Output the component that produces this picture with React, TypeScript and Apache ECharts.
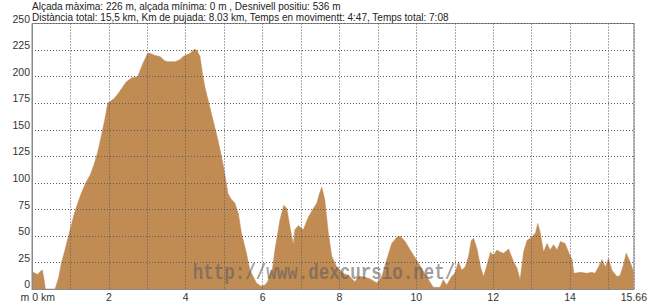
import React, { useEffect, useRef } from "react";
import * as echarts from "echarts";

const headerLine1 = "Alçada màxima: 226 m, alçada mínima: 0 m , Desnivell positiu: 536 m";
const headerLine2 =
  "Distància total: 15,5 km, Km de pujada: 8.03 km, Temps en movimentt: 4:47, Temps total: 7:08";
const watermark = "http://www.dexcursio.net/";

const totalKm = 15.66;
const xLabelKm = [2, 4, 6, 8, 10, 12, 14, 15.66];

const distanceKm = [
  0.0, 0.08, 0.15, 0.22, 0.27, 0.31, 0.35, 0.6, 0.7, 0.76, 0.85, 0.97, 1.1, 1.2, 1.28, 1.41, 1.52, 1.62,
  1.7, 1.76, 1.89, 1.97, 2.05, 2.15, 2.28, 2.45, 2.6, 2.75, 2.88, 3.01, 3.07, 3.2, 3.33, 3.45, 3.54, 3.72,
  3.85, 3.93, 4.11, 4.24, 4.3, 4.37, 4.45, 4.5, 4.67, 4.84, 4.97, 5.1, 5.18, 5.28, 5.37, 5.45, 5.58, 5.67,
  5.84, 5.95, 6.06, 6.13, 6.19, 6.26, 6.32, 6.45, 6.55, 6.63, 6.71, 6.8, 6.84, 6.93, 7.06, 7.19, 7.32, 7.41,
  7.48, 7.54, 7.62, 7.71, 7.8, 7.93, 8.1, 8.27, 8.4, 8.5, 8.58, 8.79, 8.97, 9.1, 9.23, 9.36, 9.49, 9.58,
  9.71, 9.84, 10.0, 10.13, 10.3, 10.44, 10.62, 10.7, 10.79, 10.92, 11.0, 11.1, 11.18, 11.27, 11.36, 11.43,
  11.49, 11.58, 11.67, 11.75, 11.84, 11.93, 12.0, 12.1, 12.18, 12.27, 12.4, 12.53, 12.62, 12.7, 12.79,
  12.88, 13.0, 13.1, 13.16, 13.22, 13.31, 13.4, 13.48, 13.57, 13.66, 13.75, 13.87, 13.96, 14.05, 14.1,
  14.27, 14.44, 14.57, 14.65, 14.74, 14.83, 14.92, 15.0, 15.09, 15.22, 15.3, 15.39, 15.46, 15.56, 15.66,
];

const elevationM = [
  17, 15, 14, 17, 18, 10, 0, 0, 12, 24, 36, 53, 71, 82, 90, 101, 108, 118,
  128, 137, 159, 175, 177, 180, 186, 195, 199, 200, 212, 222, 222, 220, 219, 215, 214, 214,
  216, 219, 222, 226, 224, 219, 200, 190, 165, 140, 118, 90, 85, 81, 71, 53, 34, 18,
  6, 3, 4, 7, 14, 20, 37, 65, 79, 76, 59, 42, 56, 60, 56, 68, 76, 81,
  90, 96, 84, 53, 31, 21, 15, 12, 7, 12, 12, 10, 6, 12, 28, 43, 49, 50,
  45, 37, 28, 20, 10, 2, 2, 9, 4, 12, 15, 26, 18, 21, 31, 46,
  48, 38, 21, 12, 23, 35, 32, 37, 35, 34, 38, 26, 20, 9, 35,
  46, 49, 53, 62, 54, 35, 43, 37, 42, 37, 45, 43, 35, 28, 15,
  16, 15, 16, 15, 21, 28, 21, 29, 18, 12, 13, 23, 34, 26, 16,
];

const FONT = "'Liberation Sans', Arial, sans-serif";

export default function App() {
  const ref = useRef<HTMLDivElement>(null);

  useEffect(() => {
    if (!ref.current) return;
    document.body.style.margin = "0";
    const chart = echarts.init(ref.current, undefined, { renderer: "svg" });
    const data = distanceKm.map((d, i) => [d, elevationM[i]]);
    const gridLine = { show: true, lineStyle: { color: "#5a5a5a", width: 1, type: [1, 2] as any } };

    chart.setOption({
      animation: false,
      backgroundColor: "#ffffff",
      grid: {
        left: 32,
        right: 16,
        top: 23.5,
        bottom: 15.7,
        show: true,
        borderColor: "#8a8a8a",
        borderWidth: 1,
        backgroundColor: "transparent",
      },
      xAxis: {
        type: "value",
        min: 0,
        max: totalKm,
        interval: 1,
        z: 5,
        axisLine: { show: true, lineStyle: { color: "#8a8a8a" } },
        axisTick: { show: false },
        splitLine: gridLine,
        axisLabel: {
          margin: 2,
          color: "#333",
          fontFamily: FONT,
          fontSize: 10.5,
          lineHeight: 11,
          showMaxLabel: true,
          formatter: (v: number) => {
            const hit = xLabelKm.find((k) => Math.abs(k - v) < 1e-6);
            return hit !== undefined ? String(hit) : "";
          },
        },
      },
      yAxis: {
        type: "value",
        min: 0,
        max: 250,
        interval: 25,
        z: 5,
        axisLine: { show: true, lineStyle: { color: "#8a8a8a" } },
        axisTick: { show: false },
        splitLine: gridLine,
        axisLabel: {
          margin: 2,
          color: "#333",
          fontFamily: FONT,
          fontSize: 10.5,
          verticalAlign: "bottom",
          lineHeight: 10,
        },
      },
      series: [
        {
          type: "line",
          data,
          symbol: "none",
          z: 2,
          lineStyle: { width: 0.5, color: "#c18b54" },
          areaStyle: { color: "#c18b54", opacity: 1 },
        },
      ],
      graphic: [
        {
          type: "text",
          x: 32,
          y: 6,
          z: 10,
          style: { text: headerLine1, font: `10px ${FONT}`, fill: "#222", align: "left", verticalAlign: "middle" },
        },
        {
          type: "text",
          x: 32,
          y: 17,
          z: 10,
          style: { text: headerLine2, font: `10px ${FONT}`, fill: "#222", align: "left", verticalAlign: "middle" },
        },
        {
          type: "text",
          x: 20.5,
          y: 296.5,
          z: 10,
          style: { text: "m 0 km", font: `10.5px ${FONT}`, fill: "#333", align: "left", verticalAlign: "middle" },
        },
        {
          type: "text",
          x: 324,
          y: 273,
          z: 20,
          scaleY: 1.3,
          style: {
            text: watermark,
            font: `bold 17.5px 'Liberation Mono', 'Courier New', monospace`,
            fill: "rgba(95,95,95,0.6)",
            align: "center",
            verticalAlign: "middle",
          },
        },
      ],
    });
    return () => chart.dispose();
  }, []);

  return <div ref={ref} style={{ position: "fixed", left: 0, top: 0, width: 650, height: 305 }} />;
}
